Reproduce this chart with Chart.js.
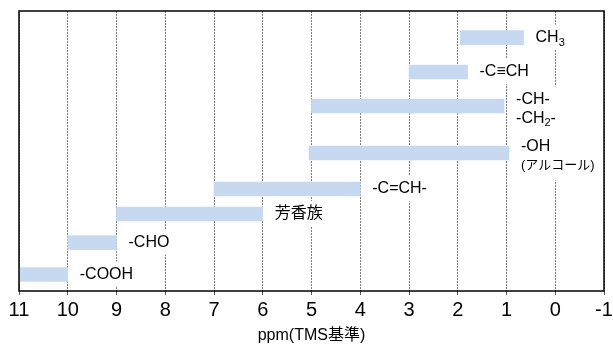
<!DOCTYPE html>
<html>
<head>
<meta charset="utf-8">
<script src="https://cdn.jsdelivr.net/npm/chart.js@4/dist/chart.umd.min.js"></script>
<style>
  html, body { margin: 0; padding: 0; background: #fff; }
</style>
</head>
<body>
<canvas id="c" width="613" height="350"></canvas>
<script>
// ---- data ----
const groups = ['CH3', '-C≡CH', '-CH- / -CH2-', '-OH (アルコール)', '-C=CH-', '芳香族', '-CHO', '-COOH'];
const rangeHigh = [1.95, 3.0, 5.0, 5.05, 7.0, 9.0, 10.0, 11.0];   // ppm (left end)
const rangeLow  = [0.65, 1.8, 1.05, 0.95, 4.0, 6.0, 9.0, 10.0];   // ppm (right end)
const rowLevel  = [2.67, 6.1, 9.5, 14.2, 17.8, 20.3, 23.17, 26.35]; // row position on hidden vertical axis
const labelLines = [
  ['CH_3'],
  ['-C≡CH'],
  ['-CH-', '-CH_2-'],
  ['-OH', '(アルコール)'],
  ['-C=CH-'],
  ['芳香族'],
  ['-CHO'],
  ['-COOH']
];
const xTicksMin = -1, xTicksMax = 11;
const axisTitle = 'ppm(TMS基準)';

const FONT = "'Liberation Sans', Arial, 'Noto Sans CJK JP', sans-serif";

function drawRich(ctx, text, x, y, size) {
  const parts = [];
  let i = 0, buf = '';
  while (i < text.length) {
    if (text[i] === '_' && i + 1 < text.length) {
      if (buf) parts.push({t: buf, sub: false});
      buf = '';
      parts.push({t: text[i + 1], sub: true});
      i += 2;
    } else { buf += text[i]; i++; }
  }
  if (buf) parts.push({t: buf, sub: false});
  const measure = [];
  parts.forEach(p => {
    ctx.font = (p.sub ? Math.round(size * 0.7) : size) + 'px ' + FONT;
    measure.push(ctx.measureText(p.t).width);
  });
  const total = measure.reduce((a, b) => a + b, 0);
  return {
    width: total,
    draw() {
      let px = x;
      parts.forEach((p, k) => {
        ctx.font = (p.sub ? Math.round(size * 0.7) : size) + 'px ' + FONT;
        ctx.fillText(p.t, px, p.sub ? y + size * 0.3 : y);
        px += measure[k];
      });
    }
  };
}

const labelPlugin = {
  id: 'barLabels',
  afterDatasetsDraw(chart) {
    const ctx = chart.ctx;
    const meta = chart.getDatasetMeta(0);
    ctx.save();
    ctx.textBaseline = 'middle';
    ctx.textAlign = 'left';
    meta.data.forEach((bar, i) => {
      const right = Math.max(bar.x, bar.base);
      const x = right + 12;
      const lines = labelLines[i];
      const items = [];
      if (lines.length === 1) {
        items.push({t: lines[0], y: bar.y, size: 16});
      } else {
        const second = /[\u3000-\u9fff]/.test(lines[1]) ? 13 : 16;
        items.push({t: lines[0], y: bar.y - 6.5, size: 16});
        items.push({t: lines[1], y: bar.y + 12.5, size: second});
      }
      const renders = items.map(it => drawRich(ctx, it.t, x, it.y, it.size));
      const w = Math.max(...renders.map(r => r.width));
      const top = items[0].y - 13;
      const last = items[items.length - 1];
      const bottom = last.y + (items.length > 1 ? 15 : 12);
      ctx.fillStyle = '#fff';
      ctx.fillRect(x - 3, top, w + 6, bottom - top);
      ctx.fillStyle = '#000';
      renders.forEach(r => r.draw());
    });
    ctx.restore();
  },
  afterDraw(chart) {
    const {ctx, chartArea: a} = chart;
    ctx.save();
    ctx.strokeStyle = '#000';
    ctx.lineWidth = 1.5;
    ctx.strokeRect(a.left, a.top, a.right - a.left, a.bottom - a.top);
    ctx.restore();
  }
};

const data = groups.map((g, i) => ({x: [rangeHigh[i], rangeLow[i]], y: rowLevel[i]}));

new Chart(document.getElementById('c'), {
  type: 'bar',
  data: {
    datasets: [{
      label: 'shift',
      data: data,
      backgroundColor: '#c6d9f0',
      borderWidth: 0,
      barThickness: 14
    }]
  },
  options: {
    indexAxis: 'y',
    responsive: false,
    animation: false,
    layout: { padding: { left: 19, right: 9, top: 11, bottom: 0 } },
    plugins: { legend: { display: false }, tooltip: { enabled: false } },
    scales: {
      y: {
        type: 'linear',
        display: false,
        offset: false,
        min: 0,
        max: 28,
        reverse: true
      },
      x: {
        type: 'linear',
        reverse: true,
        min: xTicksMin,
        max: xTicksMax,
        ticks: {
          stepSize: 1,
          color: '#000',
          font: { family: FONT, size: 20 },
          padding: 3,
          maxRotation: 0,
          autoSkip: false
        },
        grid: {
          color: '#808080',
          lineWidth: 1,
          tickLength: 4,
          tickColor: '#555',
          drawTicks: true
        },
        border: { display: false, dash: [2, 1] },
        title: {
          display: true,
          text: axisTitle,
          color: '#000',
          font: { family: FONT, size: 16 },
          padding: { top: 0, bottom: 5 }
        },
        afterFit(scale) {
          scale.height = 59;
          scale.paddingLeft = 0;
          scale.paddingRight = 0;
        }
      }
    }
  },
  plugins: [labelPlugin]
});
</script>
</body>
</html>
